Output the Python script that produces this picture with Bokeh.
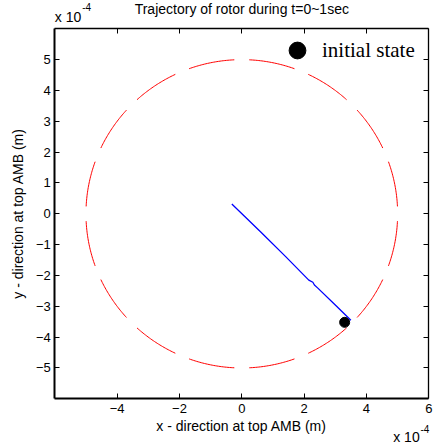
import numpy as np
from bokeh.plotting import figure
from bokeh.models import (LinearAxis, FixedTicker, Legend, LegendItem, Label, Range1d)
from bokeh.embed import file_html
from bokeh.resources import INLINE

# ---------------- data (units of 1e-4 m) ----------------
clearance_radius = 5.0
n_dashes = 16
traj_x = [-0.32, 0.60, 1.40, 2.15, 2.28, 2.33, 2.44, 3.00, 3.50]
traj_y = [0.32, -0.58, -1.38, -2.15, -2.22, -2.31, -2.41, -2.96, -3.45]
init_x = [3.30]
init_y = [-3.52]
x_ticks = [-4, -2, 0, 2, 4, 6]
y_ticks = [-5, -4, -3, -2, -1, 0, 1, 2, 3, 4, 5]
axis_lim = (-6, 6)

SANS = "Liberation Sans"
SERIF = "Liberation Serif"

# the frame covers the whole canvas; the box axes sit at fixed data locations
p = figure(width=435, height=444, output_backend="svg", toolbar_location=None,
           x_range=Range1d(-7.742, 6.215), y_range=Range1d(-7.482, 6.918),
           min_border=0, min_border_left=0, min_border_right=0,
           min_border_top=0, min_border_bottom=0)
p.grid.visible = False
p.outline_line_color = None
p.background_fill_color = "white"
p.border_fill_color = "white"


def style_axis(ax, ticks, loc, width, labels=True):
    ax.ticker = FixedTicker(ticks=ticks)
    ax.fixed_location = loc
    ax.bounds = axis_lim
    ax.major_tick_in = 5
    ax.major_tick_out = 0
    ax.minor_tick_line_color = None
    ax.axis_line_width = width
    ax.axis_line_color = "black"
    ax.major_tick_line_width = 1
    ax.major_tick_line_color = "black"
    if labels:
        ax.major_label_text_font = SANS
        ax.major_label_text_font_size = "13px"
        ax.major_label_text_color = "black"
        ax.axis_label_text_font = SANS
        ax.axis_label_text_font_size = "14px"
        ax.axis_label_text_font_style = "normal"
        ax.axis_label_text_color = "black"
    else:
        ax.major_label_text_color = None


xa = p.xaxis[0]
style_axis(xa, x_ticks, axis_lim[0], 2)
xa.axis_label = "x - direction at top AMB (m)"
xa.major_label_standoff = 5
xa.axis_label_standoff = 2

ya = p.yaxis[0]
style_axis(ya, y_ticks, axis_lim[0], 2)
ya.axis_label = "y - direction at top AMB (m)"
ya.major_label_standoff = 4
ya.axis_label_standoff = 7

top = LinearAxis()
style_axis(top, x_ticks, axis_lim[1], 1.3, labels=False)
p.add_layout(top, "above")
right = LinearAxis()
style_axis(right, y_ticks, axis_lim[1], 1.3, labels=False)
p.add_layout(right, "right")

# dashed clearance circle: arcs with gaps
step = 2 * np.pi / n_dashes
gap = np.deg2rad(5.5)
xs, ys = [], []
for k in range(n_dashes):
    th = np.linspace(k * step + gap / 2, (k + 1) * step - gap / 2, 30)
    xs.append(list(clearance_radius * np.cos(th)))
    ys.append(list(clearance_radius * np.sin(th)))
p.multi_line(xs, ys, line_color="#ff0000", line_width=1)

# trajectory
p.line(traj_x, traj_y, line_color="#0000ff", line_width=1.3)

# initial state
r_dot = p.scatter(init_x, init_y, size=10, marker="circle", fill_color="black", line_color="black")

legend = Legend(items=[LegendItem(label="initial state", renderers=[r_dot])],
                location=(276, 373), padding=0, margin=0, glyph_width=42, glyph_height=42,
                label_standoff=4, label_text_font=SERIF, label_text_font_size="21px",
                label_text_color="black",
                border_line_alpha=0, background_fill_alpha=0, spacing=0)
p.add_layout(legend)

# title and exponent labels
def add_text(x, y, text, size, align="left"):
    p.add_layout(Label(x=x, y=y, text=text, text_font=SANS, text_font_size=size,
                       text_align=align, text_baseline="middle", text_color="black"))


add_text(0, 6.64, "Trajectory of rotor during t=0~1sec", "14px", "center")
add_text(-6.0, 6.392, "x 10", "14px")
add_text(-5.121, 6.70, "-4", "10px")
add_text(4.858, -7.245, "x 10", "14px")
add_text(5.73, -6.993, "-4", "10px")

open("out.html", "w").write(file_html(p, INLINE))
